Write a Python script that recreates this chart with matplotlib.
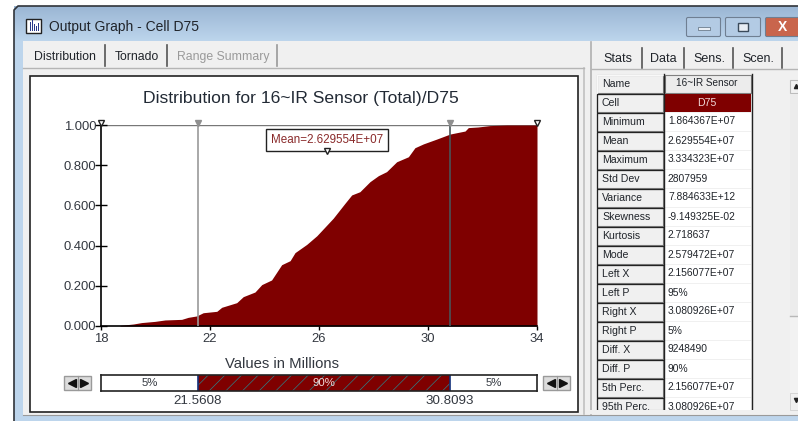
import matplotlib
matplotlib.use("Agg")
import numpy as np
import matplotlib.pyplot as plt
from matplotlib.patches import Rectangle, FancyBboxPatch

plt.rcParams["font.family"] = ["Liberation Sans", "DejaVu Sans"]

# cumulative curve
curve_x = [18.70, 19.19, 19.49, 19.98, 20.35, 20.96, 21.20, 21.51, 21.75, 22.25, 22.43,
           22.98, 23.22, 23.65, 23.90, 24.26, 24.63, 24.94, 25.12, 25.55, 25.92, 26.52,
           26.95, 27.20, 27.50, 27.87, 28.18, 28.48, 28.85, 29.28, 29.52, 29.83, 30.32,
           30.81, 31.36, 31.48, 31.83, 32.27, 32.90, 34.00]
curve_p = [0.003, 0.010, 0.017, 0.023, 0.030, 0.033, 0.043, 0.050, 0.066, 0.073, 0.093,
           0.116, 0.146, 0.169, 0.206, 0.229, 0.305, 0.325, 0.365, 0.406, 0.449, 0.536,
           0.610, 0.652, 0.668, 0.718, 0.748, 0.768, 0.817, 0.842, 0.887, 0.906, 0.930,
           0.955, 0.970, 0.987, 0.990, 0.997, 1.000, 1.000]

left_x = 21.5608
right_x = 30.8093
mean_x = 26.29554
x_ticks = [18, 22, 26, 30, 34]
y_ticks = [0.0, 0.2, 0.4, 0.6, 0.8, 1.0]
band_labels = ["5%", "90%", "5%"]

stat_names = ["Name", "Cell", "Minimum", "Mean", "Maximum", "Std Dev", "Variance", "Skewness",
              "Kurtosis", "Mode", "Left X", "Left P", "Right X", "Right P", "Diff. X",
              "Diff. P", "5th Perc.", "95th Perc."]
stat_values = ["16~IR Sensor", "D75", "1.864367E+07", "2.629554E+07", "3.334323E+07", "2807959",
               "7.884633E+12", "-9.149325E-02", "2.718637", "2.579472E+07", "2.156077E+07",
               "95%", "3.080926E+07", "5%", "9248490", "90%", "2.156077E+07", "3.080926E+07"]

left_tabs = ["Distribution", "Tornado", "Range Summary"]
right_tabs = ["Stats", "Data", "Sens.", "Scen."]

W, H = 798, 421
RED = "#7f0000"
TXT = "#333840"
PANEL = "#f0f0f0"


def axes_px(fig, x0, y0, x1, y1, **kw):
    return fig.add_axes([x0 / W, 1 - y1 / H, (x1 - x0) / W, (y1 - y0) / H], **kw)


fig = plt.figure(figsize=(W / 100, H / 100), dpi=100, facecolor="white")

# window chrome, in pixels
bg = axes_px(fig, 0, 0, W, H)
bg.set_xlim(0, W)
bg.set_ylim(H, 0)
bg.axis("off")


def box(x0, y0, x1, y1, fc="none", ec="none", lw=1, z=1, **kw):
    bg.add_patch(Rectangle((x0, y0), x1 - x0, y1 - y0, fc=fc, ec=ec, lw=lw, zorder=z, **kw))


grad = np.linspace(0, 1, 40).reshape(-1, 1)
cmap = matplotlib.colors.LinearSegmentedColormap.from_list("title", ["#9ab6d4", "#bdd5ec"])
bg.imshow(grad, extent=(14, W, 41, 6), cmap=cmap, aspect="auto", zorder=1)
bg.set_xlim(0, W)
bg.set_ylim(H, 0)
box(14, 41, 23, 415, fc="#bdd5ec")
box(14, 415, W, H, fc="#bdd5ec")
box(23, 41, W, 415, fc=PANEL, z=1.5)
bg.plot([14, 14, 18, W], [H, 10, 6, 6], color="#30343a", lw=1.2, zorder=2)
bg.plot([23, W], [414.5, 414.5], color="#9a9a9a", lw=0.8, zorder=2)

# title bar
box(26, 19, 41, 33, fc="white", ec="#222222", lw=1, z=3)
for bx, bh in zip([30, 32, 34, 36, 38], [9, 11, 7, 5, 8]):
    box(bx, 31 - bh, bx + 1, 31, fc="#2a3a8a", z=4)
bg.text(49, 27.5, "Output Graph - Cell D75", fontsize=10, color="#20242a", va="center", zorder=4)
for bx0, bx1, col in [(686, 721, "#b3cbe4"), (725, 761, "#b3cbe4"), (765, W + 4, "#c9654c")]:
    bg.add_patch(FancyBboxPatch((bx0 + 2, 19), bx1 - bx0 - 4, 16, boxstyle="round,pad=1.5",
                                fc=col, ec="#6f7f92", lw=0.8, zorder=3))
box(698, 27, 710, 30, fc="#e8eef5", ec="#5a6a7a", lw=0.5, z=4)
box(738, 23, 748, 31, fc="#e8eef5", ec="#3a4a5a", lw=1, z=4)
bg.text(783, 27, "X", fontsize=10, fontweight="bold", color="white", ha="center", va="center", zorder=4)

# left tabs
tab_edges = [(23, 105), (105, 167), (168, 277)]
for (x0, x1), label, i in zip(tab_edges, left_tabs, range(3)):
    box(x0, 44, x1, 66, fc=PANEL, z=2)
    bg.plot([x1, x1], [45, 66], color="#555555" if i < 2 else "#999999", lw=1.2, zorder=3)
    bg.text((x0 + x1) / 2 + 1, 57, label, fontsize=8.8, ha="center", va="center",
            color="#9a9a9a" if i == 2 else "#20242a", zorder=3)
bg.plot([23, 584], [67.5, 67.5], color="#b5b5b5", lw=1, zorder=3)

# chart frame
box(30, 76, 578, 412, fc="white", ec="#222222", lw=1.2, z=2)
bg.plot([584, 584], [68, 414], color="#c0c0c0", lw=1.2, zorder=2)
bg.plot([591, 591], [42, 414], color="#b0b0b0", lw=1.2, zorder=2)

# right tabs
rt_edges = [(593, 642), (643, 684), (686, 733), (735, 782)]
for (x0, x1), label in zip(rt_edges, right_tabs):
    box(x0, 46, x1, 68, fc=PANEL, z=2)
    bg.plot([x1, x1], [48, 68], color="#555555", lw=1.2, zorder=3)
    bg.text((x0 + x1) / 2, 59, label, fontsize=9, ha="center", va="center", color="#20242a", zorder=3)
bg.plot([591, W], [68.5, 68.5], color="#b5b5b5", lw=1, zorder=3)

# stats table
ROW = 19.0
TOP = 74.5
box(596, 73, 752, 410, fc=PANEL, z=2)
for i, (name, value) in enumerate(zip(stat_names, stat_values)):
    y0 = TOP + i * ROW
    y1 = min(y0 + ROW - 1, 410)
    box(597, y0, 663, y1, fc="#f0f0f0", ec="#808080", lw=0.8, z=3)
    bg.plot([597, 597, 663], [y1, y0, y0], color="#222222" if i else "#f8f8f8", lw=0.9, zorder=4)
    bg.text(602, y0 + 9.5, name, fontsize=7.6, va="center", color="#20242a", zorder=5)
    if i == 0:
        box(665, y0, 751, y1, fc="#ececec", ec="#808080", lw=0.8, z=3)
        bg.text(707, y0 + 9, value, fontsize=7.2, ha="center", va="center", color="#20242a", zorder=5)
    elif i == 1:
        box(665, y0, 751, y1, fc=RED, z=3)
        bg.text(707, y0 + 9.5, value, fontsize=7.6, ha="center", va="center", color="#f0dada", zorder=5)
    else:
        box(665, y0, 751, y1, fc="white", z=3)
        bg.text(668, y0 + 9, value, fontsize=7.4, va="center", color="#20242a", zorder=5)
bg.plot([664, 664], [74, 410], color="#222222", lw=1, zorder=4)
bg.plot([751.5, 751.5], [74, 410], color="#222222", lw=1, zorder=4)
box(590, 410, 789, 414, fc=PANEL, z=6)

# scrollbar
box(790, 80, W, 93, fc="#f2f2f2", ec="#bcbcbc", lw=0.8, z=3)
box(790, 94, W, 316, fc="#ececec", z=3)
bg.plot([790, W], [316, 316], color="#b8b8b8", lw=1, zorder=4)
box(790, 317, W, 393, fc="#f2f2f2", z=3)
box(790, 393, W, 410, fc="#f0f0f0", ec="#d0d0d0", lw=0.6, z=3)
bg.plot([796], [86], marker="^", ms=3, color="#222222", zorder=4)
bg.plot([796], [400], marker="v", ms=3, color="#222222", zorder=4)

# main chart
ax = axes_px(fig, 101, 125, 537, 326, facecolor="none")
ax.fill_between(curve_x, curve_p, 0, color=RED, lw=0, zorder=2)
ax.set_xlim(18, 34)
ax.set_ylim(0, 1)
ax.set_xticks(x_ticks)
ax.set_yticks(y_ticks)
ax.set_yticklabels([f"{v:.3f}" for v in y_ticks])
ax.tick_params(axis="y", direction="inout", length=9, width=1, labelsize=9.4, labelcolor=TXT, pad=-1)
ax.tick_params(axis="x", direction="out", length=3, width=1, labelsize=9.4, labelcolor=TXT, pad=2)
for s in ["top", "right"]:
    ax.spines[s].set_visible(False)
ax.spines["left"].set_linewidth(1.2)
ax.spines["bottom"].set_linewidth(1.2)
ax.axhline(1, color="#777777", lw=1, zorder=1)
ax.axvline(left_x, color="#9a9a9a", lw=1.2, zorder=3)
ax.axvline(right_x, color="#4a5458", lw=1.2, zorder=3)
ax.plot([34, 34], [0, 1], color="#3a3a3a", lw=0.8, zorder=3)
ax.plot([left_x, right_x], [1.012, 1.012], ls="none", marker="v", ms=4, color="#8f8f8f", clip_on=False, zorder=4)
ax.plot([18, 34], [1.012, 1.012], ls="none", marker="v", ms=5, mfc="white", mec="#222222",
        clip_on=False, zorder=4)
ax.text(mean_x, 0.925, "Mean=2.629554E+07", fontsize=8.4, color="#8a2a2a", ha="center", va="center", zorder=5,
        bbox=dict(boxstyle="square,pad=0.42", fc="white", ec="#222222", lw=1))
ax.plot([mean_x], [0.873], ls="none", marker="v", ms=4, mfc="white", mec="#222222", zorder=6)

bg.text(301, 98, "Distribution for 16~IR Sensor (Total)/D75", fontsize=12.6, color="#222a35",
        ha="center", va="center", zorder=5)
bg.text(282, 364, "Values in Millions", fontsize=10.7, color=TXT, ha="center", va="center", zorder=5)

# percentile band under the chart
band = axes_px(fig, 101, 375, 537, 391, facecolor="white")
band.set_xlim(18, 34)
band.set_ylim(0, 1)
band.set_yticks([])
plt.rcParams["hatch.linewidth"] = 0.5
band.barh(0.5, right_x - left_x, left=left_x, height=1, color=RED, edgecolor="#2f7f86", hatch="//", lw=0)
band.plot([left_x, left_x], [0, 1], color="#12307a", lw=1.2)
band.plot([right_x, right_x], [0, 1], color="#12307a", lw=1.2)
for s in band.spines.values():
    s.set_linewidth(1.2)
    s.set_color("#222222")
band_centres = [(18 + left_x) / 2, (left_x + right_x) / 2, (right_x + 34) / 2]
for xc, label, col in zip(band_centres, band_labels, [TXT, "#f0dada", TXT]):
    band.text(xc, 0.47, label, fontsize=8.2, color=col, ha="center", va="center")
band.set_xticks([left_x, right_x])
band.set_xticklabels([f"{left_x:.4f}", f"{right_x:.4f}"], fontsize=9.6, color=TXT)
band.tick_params(axis="x", length=0, pad=3)

# little arrow buttons
for bx in [64, 543]:
    box(bx, 376, bx + 27, 390, fc="#dcdcdc", ec="#9a9a9a", lw=1, z=3)
    bg.plot([bx + 13.5, bx + 13.5], [376, 390], color="#9a9a9a", lw=0.8, zorder=4)
    bg.plot([bx + 8], [383], marker="<", ms=6, color="#111111", zorder=4)
    bg.plot([bx + 20], [383], marker=">", ms=6, color="#111111", zorder=4)

fig.savefig("out.png", dpi=100)
